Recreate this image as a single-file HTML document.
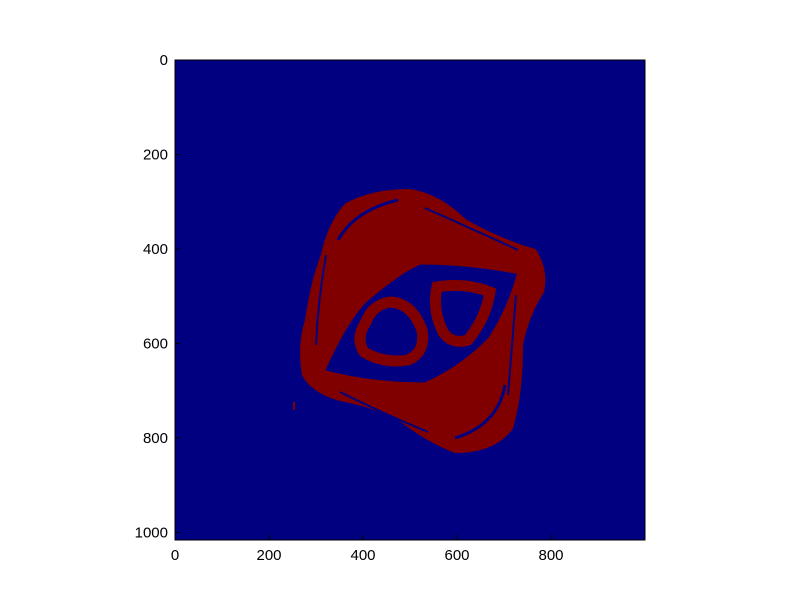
<!DOCTYPE html>
<html><head><meta charset="utf-8"><style>
body{margin:0;background:#fff;width:800px;height:600px;overflow:hidden}
svg{font-family:"Liberation Sans","DejaVu Sans",sans-serif}
</style></head><body>
<svg width="800" height="600">
<rect x="175" y="60" width="470" height="480" fill="#000080"/>
<g fill="#800000">
<path d="M345,205 Q370,190 410,190 Q440,195 465,220 Q500,240 535,250 Q548,270 543,292 Q528,315 522,345 Q522,395 512,428 Q495,452 455,452 Q425,440 400,420 Q370,405 340,400 Q312,392 303,375 Q298,345 306,320 Q312,280 322,255 Q328,225 345,205 Z" stroke="#800000" stroke-width="2"/>
<path d="M322,372 Q345,320 365,300 Q400,270 420,262 Q470,262 520,272 Q510,310 490,340 Q460,370 425,385 Q370,385 322,372 Z" fill="#000080" stroke="#800000" stroke-width="5"/>
<path d="M338,240 Q355,210 398,200" fill="none" stroke="#000080" stroke-width="3"/>
<path d="M326,255 Q318,300 316,345" fill="none" stroke="#000080" stroke-width="2"/>
<path d="M455,438 Q498,425 505,385" fill="none" stroke="#000080" stroke-width="3"/>
<path d="M425,208 Q470,228 518,250" fill="none" stroke="#000080" stroke-width="2"/>
<path d="M340,392 Q380,412 428,432" fill="none" stroke="#000080" stroke-width="2"/>
<path d="M516,295 Q512,345 508,395" fill="none" stroke="#000080" stroke-width="2"/>
<path d="M390,302 Q372,305 366,322 Q355,338 364,352 Q384,364 408,360 Q426,352 422,330 Q412,303 390,302 Z" stroke="#800000" stroke-width="11" fill="#000080"/>
<path d="M437,287 Q465,282 490,292 Q486,318 468,340 Q452,345 443,332 Q432,310 437,287 Z" stroke="#800000" stroke-width="11" fill="#000080"/>
<rect x="293" y="402" width="2" height="8"/>
</g>
<rect x="175" y="60" width="470" height="480" fill="none" stroke="#000" stroke-width="1"/>
<g id="ticks" font-size="15" fill="#000"></g>
</svg>
<script>
const xTicks=[0,200,400,600,800];
const yTicks=[0,200,400,600,800,1000];
const sx=v=>175+v*0.47, sy=v=>60+v*0.4725;
const g=document.getElementById('ticks');
const NS='http://www.w3.org/2000/svg';
xTicks.forEach(v=>{
 const t=document.createElementNS(NS,'text');
 
 
 t.setAttribute('x',sx(v));t.setAttribute('y',560);t.setAttribute('text-anchor','middle');
 t.textContent=v;g.appendChild(t);
 const l=document.createElementNS(NS,'line');
 
 
 l.setAttribute('x1',sx(v));l.setAttribute('x2',sx(v));l.setAttribute('y1',540);l.setAttribute('y2',535);l.setAttribute('stroke','#000');g.appendChild(l);
});
yTicks.forEach(v=>{
 const t=document.createElementNS(NS,'text');
 
 
 t.setAttribute('x',168);t.setAttribute('y',sy(v)+5);t.setAttribute('text-anchor','end');
 t.textContent=v;g.appendChild(t);
 const l=document.createElementNS(NS,'line');
 
 
 l.setAttribute('x1',175);l.setAttribute('x2',180);l.setAttribute('y1',sy(v));l.setAttribute('y2',sy(v));l.setAttribute('stroke','#000');g.appendChild(l);
});
</script>
</body></html>
